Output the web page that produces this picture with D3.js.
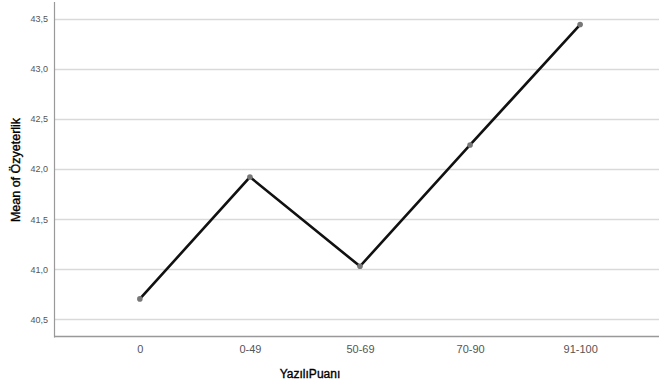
<!DOCTYPE html>
<html><head><meta charset="utf-8">
<script src="https://cdn.jsdelivr.net/npm/d3@7"></script>
<style>body{margin:0;background:#fff;}svg{display:block;font-family:Arial,"Liberation Sans",sans-serif;}</style>
</head><body>
<svg id="c" width="659" height="387"></svg>
<script>
const categories = ["0", "0-49", "50-69", "70-90", "91-100"];
const means = [40.705, 41.92, 41.03, 42.24, 43.44];
const yTicks = [40.5, 41.0, 41.5, 42.0, 42.5, 43.0, 43.5];
const xTitle = "YazılıPuanı";
const yTitle = "Mean of Özyeterlik";

(function () {
const svg = d3.select("#c");
const mLeft = 54, mRight = 666, mTop = 2, mBottom = 336.5;

const x = d3.scalePoint().domain(categories).range([mLeft, mRight]).padding(0.78);
const y = d3.scaleLinear().domain([40.33, 43.665]).range([mBottom, mTop]);
const fmt = d => d3.format(".1f")(d).replace(".", ",");

// gridlines
svg.append("g").selectAll("line").data(yTicks).join("line")
  .attr("x1", mLeft).attr("x2", 659)
  .attr("y1", d => Math.round(y(d)) + 0.5).attr("y2", d => Math.round(y(d)) + 0.5)
  .attr("stroke", "#d9d9d9").attr("stroke-width", 1.5);

// y axis
const ya = svg.append("g").attr("transform", `translate(${mLeft},0)`)
  .call(d3.axisLeft(y).tickValues(yTicks).tickFormat(fmt).tickSize(0).tickPadding(6));
ya.select(".domain").remove();
ya.selectAll("text").attr("fill", "#555").attr("font-size", 9).attr("font-family", "Arial");
svg.append("line").attr("x1", mLeft + 0.5).attr("x2", mLeft + 0.5).attr("y1", mTop).attr("y2", mBottom + 1)
  .attr("stroke", "#999").attr("stroke-width", 1.2);

// x axis
const xa = svg.append("g").attr("transform", `translate(0,${mBottom})`)
  .call(d3.axisBottom(x).tickSize(0).tickPadding(9));
xa.select(".domain").remove();
xa.selectAll("text").attr("fill", "#555").attr("font-size", 11).attr("font-family", "Arial");
svg.append("line").attr("x1", mLeft).attr("x2", 659).attr("y1", mBottom).attr("y2", mBottom)
  .attr("stroke", "#999").attr("stroke-width", 1.5);

// line
const line = d3.line().x((d, i) => x(categories[i])).y(d => y(d));
svg.append("path").datum(means).attr("d", line)
  .attr("fill", "none").attr("stroke", "#111").attr("stroke-width", 2.6).attr("stroke-linejoin", "miter");
svg.append("g").selectAll("circle").data(means).join("circle")
  .attr("cx", (d, i) => x(categories[i])).attr("cy", d => y(d)).attr("r", 2.8)
  .attr("fill", "#777");

// titles
svg.append("text").attr("x", 310).attr("y", 378).attr("text-anchor", "middle")
  .attr("font-size", 12).attr("fill", "#000").attr("stroke", "#000").attr("stroke-width", 0.35).text(xTitle);
svg.append("text").attr("transform", "translate(20,170) rotate(-90)").attr("text-anchor", "middle")
  .attr("font-size", 12.5).attr("fill", "#000").attr("stroke", "#000").attr("stroke-width", 0.35).text(yTitle);
})();
</script>
</body></html>
